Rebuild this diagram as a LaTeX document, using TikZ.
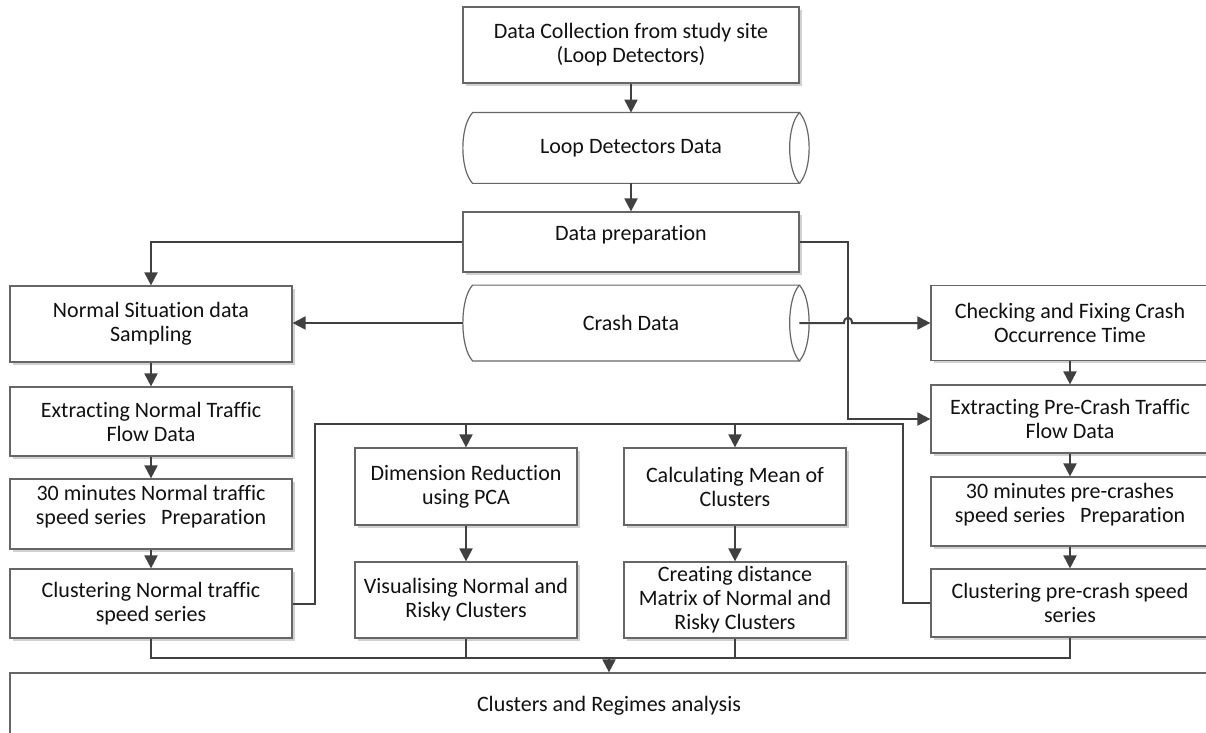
\documentclass[tikz,border=0pt]{standalone}
\usepackage{fontspec}
\setmainfont{Carlito}[Ligatures=NoCommon]
\usetikzlibrary{arrows.meta,calc,shadows}
\definecolor{edge}{HTML}{666666}
\definecolor{wire}{HTML}{404040}
\definecolor{ink}{HTML}{111111}
\tikzset{
  box/.style={draw=edge, line width=0.6pt, fill=white, align=center, inner sep=0pt,
    drop shadow={shadow xshift=1.3pt, shadow yshift=-1.3pt, fill=black!18, opacity=1}},
  plainbox/.style={draw=edge, line width=0.6pt, fill=white, align=center, inner sep=0pt},
  sz/.style 2 args={minimum width=#1*0.5pt, minimum height=#2*0.5pt},
  store/.style={inner sep=0pt, align=center},
  wire/.style={draw=wire, line width=1pt},
  arr/.style={wire, -{Triangle[length=6.5pt,width=6.5pt]}},
}
% horizontal stored-data drum: convex left end, lens-shaped right end
\newcommand\drum[1]{%
  \draw[edge, line width=0.6pt]
    ($(#1.north west)+(10,0)$) -- (#1.north east)
    .. controls ($(#1.north east)+(-13,14)$) and ($(#1.south east)+(-13,-14)$) .. (#1.south east)
    -- ($(#1.south west)+(10,0)$)
    .. controls ($(#1.south west)+(-3,-14)$) and ($(#1.north west)+(-3,14)$) .. cycle;
  \draw[edge, line width=0.6pt]
    (#1.north east)
    .. controls ($(#1.north east)+(13,14)$) and ($(#1.south east)+(13,-14)$) .. (#1.south east);}
\newcommand\lift{\\[-3pt]\mbox{}}
\begin{document}
\begin{tikzpicture}[x=0.5pt, y=-0.5pt, font=\fontsize{11}{12}\selectfont, text=ink]
\useasboundingbox (0,0) rectangle (1206,733);
\clip (0,0) rectangle (1206,733);

% central column
\node[box, sz={336}{76}] (dc) at (631,45) {Data Collection from study site\\(Loop Detectors)};
\node[store, sz={336}{70}] (ldd) at (631,148) {Loop Detectors Data};
\drum{ldd}
\node[box, sz={336}{60}] (dp) at (631,242) {Data preparation\lift};
\node[store, sz={336}{75}] (cd) at (631,323) {Crash Data};
\drum{cd}

% normal-traffic column
\node[box, sz={282}{76}] (ns) at (151,324) {Normal Situation data\\Sampling};
\node[box, sz={282}{69}] (en) at (151,421.5) {Extracting Normal Traffic\\Flow Data};
\node[box, sz={282}{70}] (tn) at (151,514) {30 minutes Normal traffic\\speed series\ \ \ Preparation\lift};
\node[box, sz={282}{69}] (cn) at (151,603.5) {Clustering Normal traffic\\speed series};

% crash column
\node[box, sz={278}{75}] (ck) at (1070,323) {Checking and Fixing Crash\\Occurrence Time};
\node[box, sz={278}{68}] (ep) at (1070,419) {Extracting Pre-Crash Traffic\\Flow Data};
\node[box, sz={278}{69}] (tp) at (1070,511.5) {30 minutes pre-crashes\\speed series\ \ \ Preparation\lift};
\node[box, sz={278}{68}] (cp) at (1070,603) {Clustering pre-crash speed\\series};

% comparison steps
\node[box, sz={222}{77}] (dim) at (466,486.5) {Dimension Reduction\\using PCA};
\node[box, sz={222}{76}] (vis) at (466,600) {Visualising Normal and\\Risky Clusters};
\node[box, sz={222}{77}] (mean) at (735,486.5) {Calculating Mean of\\Clusters};
\node[box, sz={222}{76}] (dist) at (735,600) {Creating distance\\Matrix of Normal and\\Risky Clusters};

% final step
\node[plainbox, sz={1198}{66}] (cra) at (609,706) {Clusters and Regimes analysis};

% connectors
\draw[arr] (dc) -- (ldd);
\draw[arr] (ldd) -- (dp);
\draw[arr] (dp.west) -| (ns.north);
\draw[arr] (cd.west) -- (cd.west -| ns.east);
\coordinate (jr) at (848,242);
\draw[arr] (dp.east) -- (jr) |- (ep.west);
\draw[arr] (cd.east) -- (844,323) .. controls (844,316) and (852,316) .. (852,323) -- (ck.west);

\draw[arr] (ns) -- (en);
\draw[arr] (en) -- (tn);
\draw[arr] (tn) -- (cn);
\draw[arr] (ck) -- (ep);
\draw[arr] (ep) -- (tp);
\draw[arr] (tp) -- (cp);

\coordinate (busL) at (315,424);
\coordinate (busR) at (903,424);
\draw[wire] (cn.east) -| (busL) -- (busR) |- (cp.west);
\draw[arr] (dim.north |- busL) -- (dim.north);
\draw[arr] (mean.north |- busL) -- (mean.north);
\draw[arr] (dim) -- (vis);
\draw[arr] (mean) -- (dist);

\coordinate (m) at (609,658);
\draw[wire] (cn.south) |- (m);
\draw[wire] (vis.south) |- (m);
\draw[wire] (dist.south) |- (m);
\draw[wire] (cp.south) |- (m);
\draw[arr] (m) -- (cra.north -| m);
\end{tikzpicture}
\end{document}
